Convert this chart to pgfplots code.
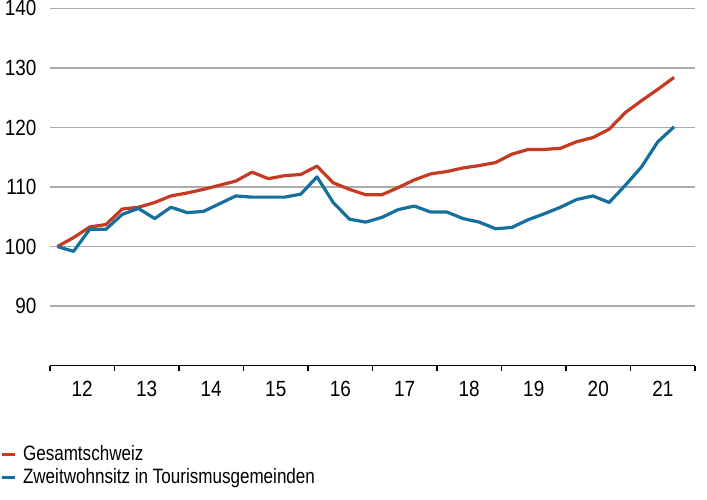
\documentclass[border=0pt]{standalone}
\usepackage{pgfplots}
\pgfplotsset{compat=1.18}
\usepackage{fontspec}
\setmainfont{Liberation Sans}[FakeStretch=0.86]
\newfontfamily\tickfont{Liberation Sans}[FakeStretch=0.86]
\newfontfamily\legfont{Liberation Sans}[FakeStretch=0.82]
\definecolor{cred}{HTML}{C43A22}
\definecolor{cblue}{HTML}{15709E}
\definecolor{cgrid}{HTML}{ABABAB}
\pgfplotstableread{
i red blue
0 100.0 100.0
1 101.5 99.2
2 103.3 102.9
3 103.7 102.9
4 106.3 105.4
5 106.6 106.4
6 107.4 104.7
7 108.5 106.6
8 109.0 105.7
9 109.6 105.9
10 110.3 107.2
11 111.0 108.5
12 112.5 108.3
13 111.4 108.3
14 111.9 108.3
15 112.1 108.8
16 113.5 111.7
17 110.7 107.4
18 109.6 104.6
19 108.7 104.1
20 108.7 104.9
21 109.9 106.2
22 111.2 106.8
23 112.2 105.8
24 112.6 105.8
25 113.2 104.7
26 113.6 104.1
27 114.1 103.0
28 115.5 103.2
29 116.3 104.5
30 116.3 105.5
31 116.5 106.6
32 117.6 107.9
33 118.3 108.5
34 119.7 107.4
35 122.5 110.3
36 124.5 113.4
37 126.4 117.6
38 128.4 120.1
}\datatable
\begin{document}
\begin{tikzpicture}
\useasboundingbox (-50pt,-134.3pt) rectangle (657pt,365.7pt);
\begin{axis}[
  at={(0,0)}, anchor=south west,
  scale only axis,
  width=645pt, height=357.4pt,
  xmin=-0.45, xmax=39.29,
  ymin=80, ymax=140,
  axis x line*=bottom,
  axis y line*=left,
  y axis line style={draw=none},
  x axis line style={line width=1.4pt, black},
  xtick={-0.45,3.52,7.50,11.47,15.45,19.42,23.39,27.37,31.34,35.32,39.29},
  xticklabels={12,13,14,15,16,17,18,19,20,21},
  x tick label as interval,
  xtick style={line width=1.2pt, black},
  tick align=outside,
  major tick length=5pt,
  ytick={90,100,110,120,130,140},
  ytick style={draw=none},
  ymajorgrids,
  grid style={cgrid, line width=1.3pt},
  /pgf/number format/assume math mode=true,
  ticklabel style={font=\tickfont\fontsize{22}{24}\selectfont},
  yticklabel style={xshift=-5pt},
  xticklabel style={yshift=-7pt},
  legend style={at={(-0.0775,-0.222)}, anchor=north west, draw=none, fill=none,
    inner sep=0pt, outer sep=0pt, row sep=4pt, column sep=7pt,
    font=\legfont\fontsize{20.8}{22}\selectfont,
    nodes={inner sep=0pt, text height=15pt, text depth=4pt}},
  legend cell align=left,
  legend image code/.code={\draw[#1, line width=3pt] (0pt,0pt) -- (13pt,0pt);},
]
\addplot[cred, line width=3.2pt, line join=round] table[x=i, y=red] {\datatable};
\addlegendentry{Gesamtschweiz}
\addplot[cblue, line width=3.2pt, line join=round] table[x=i, y=blue] {\datatable};
\addlegendentry{Zweitwohnsitz in Tourismusgemeinden}
\end{axis}
\end{tikzpicture}
\end{document}
